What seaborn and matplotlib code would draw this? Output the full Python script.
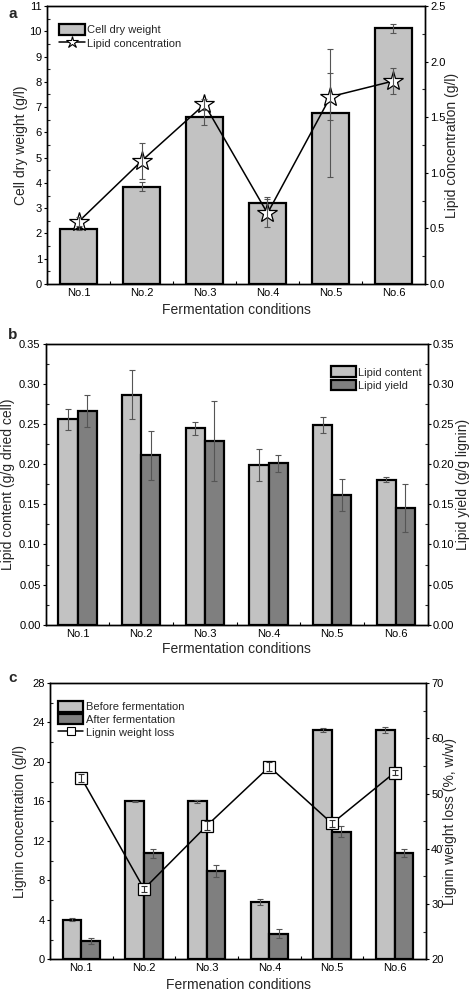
import numpy as np
import pandas as pd
import matplotlib
matplotlib.use("Agg")
import matplotlib.pyplot as plt
from matplotlib.ticker import MultipleLocator, FormatStrFormatter
from matplotlib.patches import Patch
from matplotlib.lines import Line2D
import seaborn as sns

sns.set_theme(style="white")
plt.rcParams['font.family'] = ['Liberation Sans', 'DejaVu Sans']

# ---------------- data ----------------
conditions = ["No.1", "No.2", "No.3", "No.4", "No.5", "No.6"]

# panel a
cell_dry_weight = [2.19, 3.85, 6.62, 3.22, 6.77, 10.12]
cell_dry_weight_err = [0.05, 0.17, 0.34, 0.24, 2.53, 0.18]
lipid_conc = [0.56, 1.106, 1.616, 0.636, 1.685, 1.826]
lipid_conc_err = [0.04, 0.165, 0.05, 0.125, 0.21, 0.12]

# panel b
lipid_content = [0.256, 0.287, 0.245, 0.199, 0.249, 0.181]
lipid_content_err = [0.0135, 0.031, 0.008, 0.02, 0.01, 0.003]
lipid_yield = [0.266, 0.211, 0.229, 0.201, 0.162, 0.146]
lipid_yield_err = [0.02, 0.03, 0.05, 0.01, 0.02, 0.03]

# panel c
lignin_before = [3.99, 16.0, 16.0, 5.78, 23.27, 23.27]
lignin_before_err = [0.15, 0.03, 0.15, 0.3, 0.2, 0.3]
lignin_after = [1.86, 10.75, 8.96, 2.6, 12.92, 10.75]
lignin_after_err = [0.3, 0.45, 0.6, 0.45, 0.55, 0.4]
lignin_loss = [52.8, 32.74, 44.15, 54.84, 44.58, 53.8]
lignin_loss_err = [0.8, 0.6, 0.8, 0.8, 0.6, 0.5]

LIGHT = "#c2c2c2"
DARK = "#7f7f7f"
ERRC = "#555555"
LABEL_FS = 10
TICK_FS = 8
LEG_FS = 8

fig = plt.figure(figsize=(4.71, 9.92), dpi=100)


def style_axes(ax, ax2):
    for a in (ax, ax2):
        for s in a.spines.values():
            s.set_color("black")
            s.set_linewidth(1.0)
    ax.tick_params(axis="y", which="major", direction="out", length=2.5, width=0.8,
                   labelsize=TICK_FS, colors="black", left=True, pad=1.2)
    ax.tick_params(axis="y", which="minor", direction="in", length=2.0, width=0.8,
                   left=True)
    ax2.tick_params(axis="y", which="major", direction="out", length=2.5, width=0.8,
                    labelsize=TICK_FS, colors="black", right=True, pad=1.2)
    ax2.tick_params(axis="y", which="minor", direction="in", length=2.0, width=0.8,
                    right=True)
    ax.set_xlim(-0.5, len(conditions) - 0.5)
    ax.set_xticks(range(len(conditions)))
    ax.set_xticks(np.arange(-0.5, len(conditions), 1.0), minor=True)
    ax.tick_params(axis="x", which="both", direction="in", length=2.5, width=0.8,
                   labelsize=TICK_FS, colors="black", bottom=True, pad=3)
    ax.grid(False)
    ax2.grid(False)


def place_labels(ax, ax2, lx, rx, xly):
    ax.yaxis.set_label_coords(lx, 0.5)
    ax.yaxis.label.set_va("center")
    ax2.yaxis.set_label_coords(rx, 0.5)
    ax2.yaxis.label.set_va("center")
    ax.xaxis.set_label_coords(0.5, xly)
    ax.xaxis.label.set_va("center")


def bar_errors(ax, err_lists):
    for cont, errs in zip(ax.containers, err_lists):
        xs = [b.get_x() + b.get_width() / 2 for b in cont]
        ys = [b.get_height() for b in cont]
        ax.errorbar(xs, ys, yerr=errs, fmt="none", ecolor=ERRC, elinewidth=0.8,
                    capsize=2.5, capthick=0.8, zorder=5)


xpos = np.arange(len(conditions))

# ================= panel a =================
ax = fig.add_axes([0.0998, 0.7137, 0.8025, 0.2802])
dfa = pd.DataFrame({"cond": conditions, "cdw": cell_dry_weight})
sns.barplot(data=dfa, x="cond", y="cdw", color=LIGHT, saturation=1, width=0.6,
            edgecolor="black", linewidth=1.6, errorbar=None, ax=ax)
bar_errors(ax, [cell_dry_weight_err])
ax.set_ylim(0, 11)
ax.yaxis.set_major_locator(MultipleLocator(1))
ax.yaxis.set_minor_locator(MultipleLocator(0.5))
ax.set_ylabel("Cell dry weight (g/l)", fontsize=LABEL_FS)
ax.set_xlabel("Fermentation conditions", fontsize=LABEL_FS)
ax2 = ax.twinx()
ax2.errorbar(xpos, lipid_conc, yerr=lipid_conc_err, fmt="none", ecolor=ERRC,
             elinewidth=0.8, capsize=2.5, capthick=0.8, zorder=4)
ax2.plot(xpos, lipid_conc, color="black", lw=1.1, marker="*", ms=15,
         mfc="white", mec="black", mew=0.9, zorder=3)
ax2.set_ylim(0, 2.5)
ax2.yaxis.set_major_locator(MultipleLocator(0.5))
ax2.yaxis.set_minor_locator(MultipleLocator(0.25))
ax2.set_ylabel("Lipid concentration (g/l)", fontsize=LABEL_FS)
style_axes(ax, ax2)
place_labels(ax, ax2, -0.0688, 1.0715, -0.0935)
handles = [Patch(facecolor=LIGHT, edgecolor="black", linewidth=1.6),
           Line2D([], [], color="black", lw=1.1, marker="*", ms=9,
                  mfc="white", mec="black", mew=0.8)]
ax.legend(handles, ["Cell dry weight", "Lipid concentration"], loc="upper left",
          bbox_to_anchor=(0.032, 0.935), frameon=False, fontsize=LEG_FS,
          handlelength=2.3, handleheight=1.1, handletextpad=0.2,
          labelspacing=0.2, borderaxespad=0, borderpad=0)
fig.text(0.017, 0.986, "a", fontsize=11, fontweight="bold", va="center")

# ================= panel b =================
ax = fig.add_axes([0.0970, 0.3703, 0.8110, 0.2829])
dfb = pd.DataFrame({
    "cond": conditions * 2,
    "val": lipid_content + lipid_yield,
    "series": ["Lipid content"] * 6 + ["Lipid yield"] * 6,
})
sns.barplot(data=dfb, x="cond", y="val", hue="series", palette=[LIGHT, DARK],
            saturation=1, width=0.6, gap=0, edgecolor="black", linewidth=1.6,
            errorbar=None, ax=ax, legend=False)
bar_errors(ax, [lipid_content_err, lipid_yield_err])
ax.set_ylim(0, 0.35)
ax.yaxis.set_major_locator(MultipleLocator(0.05))
ax.yaxis.set_minor_locator(MultipleLocator(0.025))
ax.yaxis.set_major_formatter(FormatStrFormatter("%.2f"))
ax.set_ylabel("Lipid content (g/g dried cell)", fontsize=LABEL_FS)
ax.set_xlabel("Fermentation conditions", fontsize=LABEL_FS)
ax2 = ax.twinx()
ax2.set_ylim(0, 0.35)
ax2.yaxis.set_major_locator(MultipleLocator(0.05))
ax2.yaxis.set_minor_locator(MultipleLocator(0.025))
ax2.yaxis.set_major_formatter(FormatStrFormatter("%.2f"))
ax2.set_ylabel("Lipid yield (g/g lignin)", fontsize=LABEL_FS)
style_axes(ax, ax2)
place_labels(ax, ax2, -0.0979, 1.0924, -0.0865)
handles = [Patch(facecolor=LIGHT, edgecolor="black", linewidth=1.6),
           Patch(facecolor=DARK, edgecolor="black", linewidth=1.6)]
ax.legend(handles, ["Lipid content", "Lipid yield"], loc="upper right",
          bbox_to_anchor=(0.985, 0.92), frameon=False, fontsize=LEG_FS,
          handlelength=2.3, handleheight=1.1, handletextpad=0.2,
          labelspacing=0.2, borderaxespad=0, borderpad=0)
fig.text(0.017, 0.662, "b", fontsize=11, fontweight="bold", va="center")

# ================= panel c =================
ax = fig.add_axes([0.1062, 0.0330, 0.7983, 0.2785])
dfc = pd.DataFrame({
    "cond": conditions * 2,
    "val": lignin_before + lignin_after,
    "series": ["Before fermentation"] * 6 + ["After fermentation"] * 6,
})
sns.barplot(data=dfc, x="cond", y="val", hue="series", palette=[LIGHT, DARK],
            saturation=1, width=0.6, gap=0, edgecolor="black", linewidth=1.6,
            errorbar=None, ax=ax, legend=False)
bar_errors(ax, [lignin_before_err, lignin_after_err])
ax.set_ylim(0, 28)
ax.yaxis.set_major_locator(MultipleLocator(4))
ax.yaxis.set_minor_locator(MultipleLocator(2))
ax.set_ylabel("Lignin concentration (g/l)", fontsize=LABEL_FS)
ax.set_xlabel("Fermenation conditions", fontsize=LABEL_FS)
ax2 = ax.twinx()
ax2.plot(xpos, lignin_loss, color="black", lw=1.1, marker="s", ms=8,
         mfc="white", mec="black", mew=0.9, zorder=3)
ax2.errorbar(xpos, lignin_loss, yerr=lignin_loss_err, fmt="none", ecolor="#333333",
             elinewidth=0.8, capsize=2.5, capthick=0.8, zorder=4)
ax2.set_ylim(20, 70)
ax2.yaxis.set_major_locator(MultipleLocator(10))
ax2.yaxis.set_minor_locator(MultipleLocator(5))
ax2.set_ylabel("Lignin weight loss (%, w/w)", fontsize=LABEL_FS)
style_axes(ax, ax2)
place_labels(ax, ax2, -0.0798, 1.0638, -0.093)
handles = [Patch(facecolor=LIGHT, edgecolor="black", linewidth=1.6),
           Patch(facecolor=DARK, edgecolor="black", linewidth=1.6),
           Line2D([], [], color="black", lw=1.1, marker="s", ms=6,
                  mfc="white", mec="black", mew=0.8)]
ax.legend(handles, ["Before fermentation", "After fermentation", "Lignin weight loss"],
          loc="upper left", bbox_to_anchor=(0.021, 0.935), frameon=False,
          fontsize=LEG_FS, handlelength=2.3, handleheight=1.1, handletextpad=0.2,
          labelspacing=0.15, borderaxespad=0, borderpad=0)
fig.text(0.017, 0.317, "c", fontsize=11, fontweight="bold", va="center")

fig.savefig("out.png", dpi=100)
